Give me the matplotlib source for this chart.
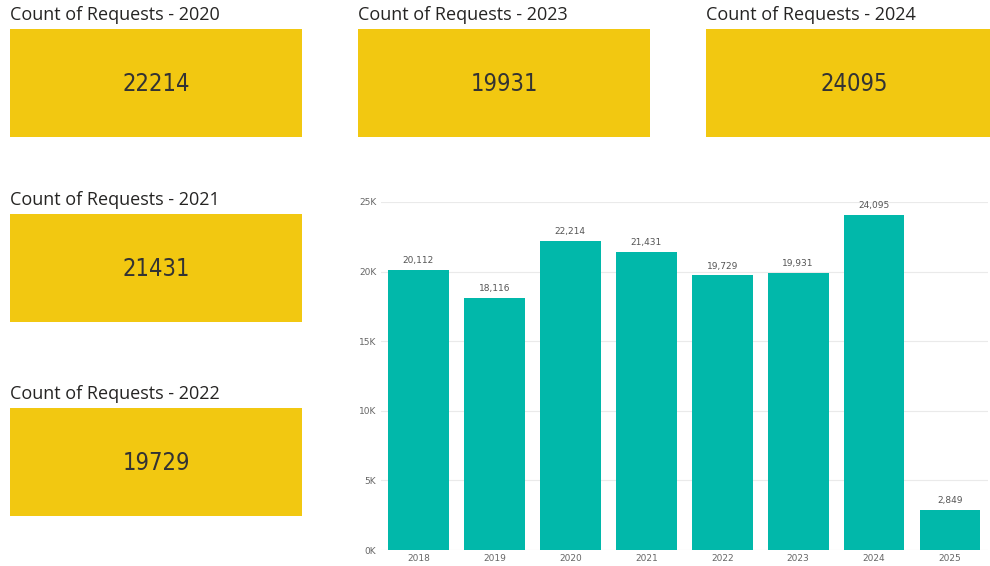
import matplotlib.pyplot as plt
from matplotlib.patches import Rectangle
from matplotlib.ticker import FuncFormatter

years = ['2018', '2019', '2020', '2021', '2022', '2023', '2024', '2025']
requests = [20112, 18116, 22214, 21431, 19729, 19931, 24095, 2849]

card_years = ['2020', '2023', '2024', '2021', '2022']
card_values = [22214, 19931, 24095, 21431, 19729]

W, H = 990, 566
# card boxes in pixels: (left, top, right, bottom)
card_boxes = [(10, 29, 302, 137), (358, 29, 650, 137), (706, 29, 990, 137),
              (10, 214, 302, 322), (10, 408, 302, 516)]

fig = plt.figure(figsize=(W / 100, H / 100), dpi=100)
bg = fig.add_axes([0, 0, 1, 1])
bg.set_xlim(0, W)
bg.set_ylim(H, 0)
bg.axis('off')

for yr, val, (l, t, r, b) in zip(card_years, card_values, card_boxes):
    bg.add_patch(Rectangle((l, t), r - l, b - t, color='#F2C811', lw=0))
    bg.text(l, t - 14, 'Count of Requests - ' + yr, family='Open Sans',
            fontsize=13, color='#252423', va='center', ha='left')
    bg.text((l + r) / 2 + 6 * (r - l < 292), (t + b) / 2 + 1, str(val),
            family='DejaVu Sans', stretch='condensed', fontsize=17,
            color='#333333', ha='center', va='center')

# bar chart
x0, x1, ytop, ybot = 380.5, 988, 202, 550
ax = fig.add_axes([x0 / W, (H - ybot) / H, (x1 - x0) / W, (ybot - ytop) / H])
bars = ax.bar(years, requests, width=0.8, color='#01B8AA', zorder=3)
ax.set_ylim(0, 25000)
ax.set_xlim(-0.5, len(years) - 0.5)
ax.set_yticks([0, 5000, 10000, 15000, 20000, 25000])
ax.yaxis.set_major_formatter(FuncFormatter(lambda v, p: '%dK' % (v / 1000)))
ax.grid(axis='y', color='#EAEAEA', lw=0.8, zorder=0)
for s in ax.spines.values():
    s.set_visible(False)
ax.tick_params(length=0, labelsize=6.5, labelcolor='#666666', pad=3)
for b, v in zip(bars, requests):
    ax.text(b.get_x() + b.get_width() / 2, v + 350, f'{v:,}', ha='center',
            va='bottom', fontsize=6.5, color='#555555', clip_on=False)

fig.savefig('out.png', dpi=100)
